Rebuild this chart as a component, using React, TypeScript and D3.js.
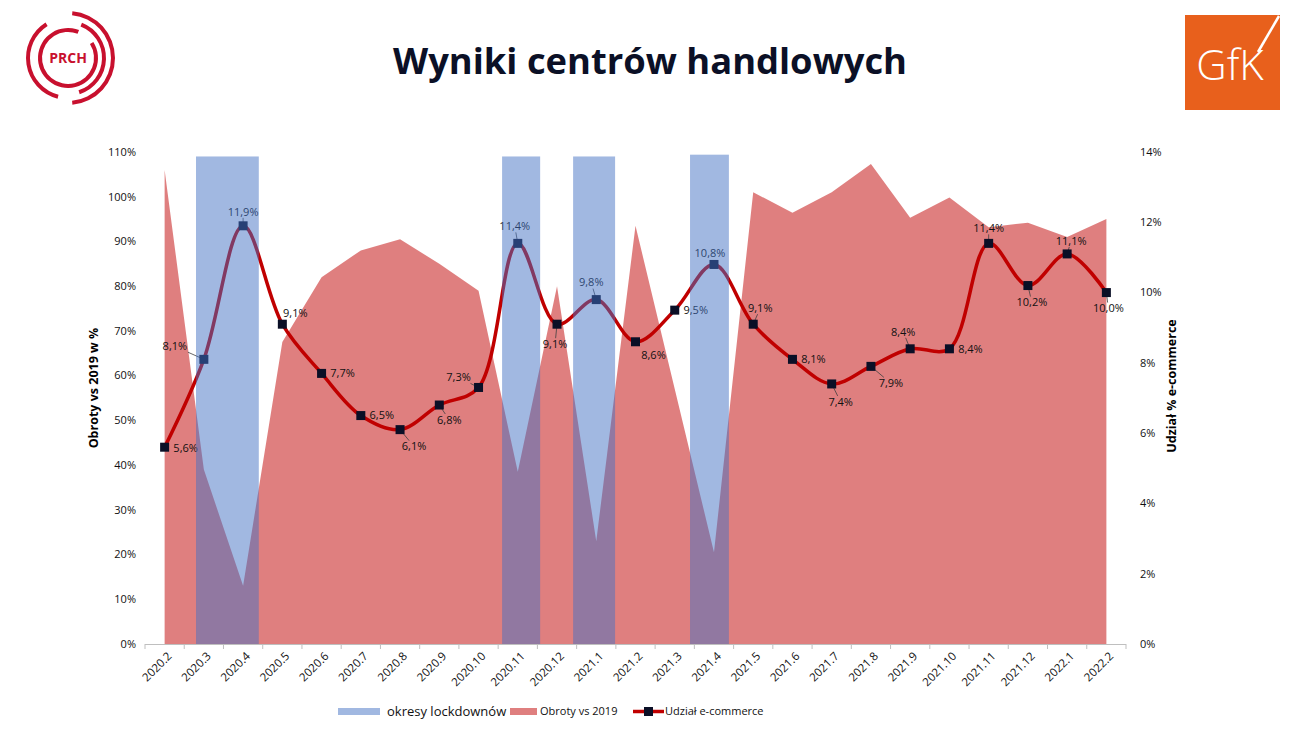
import * as d3 from 'd3'

const categories = [
  '2020.2', '2020.3', '2020.4', '2020.5', '2020.6', '2020.7', '2020.8', '2020.9', '2020.10',
  '2020.11', '2020.12', '2021.1', '2021.2', '2021.3', '2021.4', '2021.5', '2021.6', '2021.7',
  '2021.8', '2021.9', '2021.10', '2021.11', '2021.12', '2022.1', '2022.2',
]

// Obroty vs 2019 (%)
const turnover = [
  106, 39, 13, 67.5, 82, 88, 90.5, 85, 79, 38.5, 80, 23, 93.5, 57, 20.5, 101, 96.4, 101, 107.3, 95.3, 99.8,
  93.2, 94.2, 91, 95,
]

// Udział e-commerce (%)
const ecommerce = [
  5.6, 8.1, 11.9, 9.1, 7.7, 6.5, 6.1, 6.8, 7.3, 11.4, 9.1, 9.8, 8.6, 9.5, 10.8, 9.1, 8.1, 7.4, 7.9, 8.4, 8.4,
  11.4, 10.2, 11.1, 10.0,
]

// okresy lockdownów: start / end in month units along the category axis
const lockdownStart = [1.3, 9.1, 10.91, 13.89]
const lockdownEnd = [2.9, 10.07, 11.98, 14.88]
const lockdownTop = [109, 109, 109, 109.4]

const leftTicks = [0, 10, 20, 30, 40, 50, 60, 70, 80, 90, 100, 110]
const rightTicks = [0, 2, 4, 6, 8, 10, 12, 14]

// label placement per point: [dx, dy, leader]
const labelPlacement: [number, number, boolean][] = [
  [21, 1, false], [-29, -13, true], [0, -14, true], [13, -11, false], [21, 0, false], [21, 0, false],
  [14, 17, true], [10, 15, true], [-20, -10, true], [-3, -17, true], [-2, 20, true], [-5, -17, true],
  [18, 13, false], [21, 0, false], [-4, -11, false], [7, -16, true], [21, 0, false], [9, 18, true],
  [20, 17, true], [-7, -17, true], [21, 0, false], [0, -15, true], [4, 17, true], [4, -13, true],
  [2, 16, true],
]

const font = '"Open Sans", "Noto Sans", sans-serif'
const plot = { x0: 145, x1: 1126, y0: 152, y1: 644 }
const ink = '#111'

function fmt(v: number) {
  return `${v.toFixed(1).replace('.', ',')}%`
}

export default function App() {
  const x = d3.scaleBand<string>().domain(categories).range([plot.x0, plot.x1]).padding(0)
  const xPos = d3.scaleLinear().domain([0, categories.length]).range([plot.x0, plot.x1])
  const cx = (c: string) => (x(c) ?? 0) + x.bandwidth() / 2
  const yLeft = d3.scaleLinear().domain([0, 110]).range([plot.y1, plot.y0])
  const yRight = d3.scaleLinear().domain([0, 14]).range([plot.y1, plot.y0])

  const area = d3
    .area<number>()
    .x((_, i) => cx(categories[i]))
    .y0(plot.y1)
    .y1((d) => yLeft(d))

  const line = d3
    .line<number>()
    .x((_, i) => cx(categories[i]))
    .y((d) => yRight(d))
    .curve(d3.curveCatmullRom.alpha(0.5))

  const ringArc = d3.arc<{ r: number; a0: number; a1: number }>()
    .innerRadius((d) => d.r - 2)
    .outerRadius((d) => d.r + 2)
    .startAngle((d) => d.a0)
    .endAngle((d) => d.a1)

  const rings = [
    { r: 45, a0: 0.03 * Math.PI, a1: 0.97 * Math.PI },
    { r: 40, a0: 1.08 * Math.PI, a1: 1.82 * Math.PI },
    { r: 36, a0: 0.12 * Math.PI, a1: 0.9 * Math.PI },
    { r: 28, a0: 0.32 * Math.PI, a1: 2.12 * Math.PI },
  ]

  return (
    <svg width={1300} height={730} style={{ position: 'absolute', left: 0, top: 0, background: '#fff' }} fontFamily={font}>
      {/* logos */}
      <g transform="translate(68,58)">
        {rings.map((d, i) => (
          <path key={i} d={ringArc(d) ?? ''} fill="#c8102e" />
        ))}
        <text x={0} y={5} textAnchor="middle" fontSize={14} fontWeight={700} fill="#c8102e">PRCH</text>
      </g>
      <g>
        <rect x={1185} y={15} width={95} height={95} fill="#e8601c" />
        <text x={1230} y={80} textAnchor="middle" fontSize={42} fontWeight={300} fill="#fff" fontFamily='"Open Sans", sans-serif'>GfK</text>
        <line x1={1258} y1={52} x2={1279} y2={16} stroke="#fff" strokeWidth={2.5} />
      </g>

      <text x={650} y={74} textAnchor="middle" fontSize={36} fontWeight={700} fill="#0b1026" textLength={514} lengthAdjust="spacingAndGlyphs">
        Wyniki centrów handlowych
      </text>

      {/* area */}
      <path d={area(turnover) ?? ''} fill="#c00000" fillOpacity={0.5} />

      {/* x axis */}
      <line x1={plot.x0} x2={plot.x1} y1={plot.y1 + 0.5} y2={plot.y1 + 0.5} stroke="#bfbfbf" />
      {d3.range(categories.length + 1).map((i) => (
        <line key={i} x1={xPos(i)} x2={xPos(i)} y1={plot.y1} y2={plot.y1 + 5} stroke="#bfbfbf" />
      ))}
      {categories.map((c) => (
        <text key={c} transform={`translate(${cx(c) + 5},${plot.y1 + 10}) rotate(-45)`} textAnchor="end" dy="0.35em" fontSize={11.5} fill={ink}>
          {c}
        </text>
      ))}

      {/* left axis */}
      {leftTicks.map((t) => (
        <text key={t} x={136} y={yLeft(t)} dy="0.35em" textAnchor="end" fontSize={11} fill={ink}>
          {t}%
        </text>
      ))}
      <text transform={`translate(98,388) rotate(-90)`} textAnchor="middle" fontSize={12.5} fontWeight={700} fill="#000">
        Obroty vs 2019 w %
      </text>

      {/* right axis */}
      {rightTicks.map((t) => (
        <text key={t} x={1140} y={yRight(t)} dy="0.35em" textAnchor="start" fontSize={11} fill={ink}>
          {t}%
        </text>
      ))}
      <text transform={`translate(1176,386) rotate(-90)`} textAnchor="middle" fontSize={12.5} fontWeight={700} fill="#000">
        Udział % e-commerce
      </text>

      {/* e-commerce line */}
      <path d={line(ecommerce) ?? ''} fill="none" stroke="#c00000" strokeWidth={3.5} />
      {ecommerce.map((v, i) => {
        const px = cx(categories[i])
        const py = yRight(v)
        const [dx, dy, leader] = labelPlacement[i]
        const lx = px + dx
        const ly = py + dy
        let leaderLine = null
        if (leader) {
          const hw = 13
          const hh = 6
          const vx = px - lx
          const vy = py - ly
          const s = Math.min(hw / Math.max(Math.abs(vx), 0.01), hh / Math.max(Math.abs(vy), 0.01), 1)
          const ex = lx + vx * s
          const ey = ly + vy * s
          leaderLine = <line x1={ex} y1={ey} x2={px} y2={py} stroke="#404040" strokeWidth={0.8} />
        }
        return (
          <g key={i}>
            {leaderLine}
            <rect x={px - 4.5} y={py - 4.5} width={9} height={9} fill="#0a0f26" />
            <text x={lx} y={ly} dy="0.35em" textAnchor="middle" fontSize={11} fill={ink}>
              {fmt(v)}
            </text>
          </g>
        )
      })}

      {/* lockdown bars */}
      {lockdownStart.map((s, i) => (
        <rect
          key={i}
          x={xPos(s)}
          y={yLeft(lockdownTop[i])}
          width={xPos(lockdownEnd[i]) - xPos(s)}
          height={plot.y1 - yLeft(lockdownTop[i])}
          fill="#4472c4"
          fillOpacity={0.5}
        />
      ))}

      {/* legend */}
      <g>
        <rect x={338} y={708} width={42} height={7} fill="#4472c4" fillOpacity={0.5} />
        <text x={387} y={711.5} dy="0.35em" fontSize={13} fill={ink}>okresy lockdownów</text>
        <rect x={510} y={708} width={27} height={7} fill="#c00000" fillOpacity={0.5} />
        <text x={540} y={711.5} dy="0.35em" fontSize={11} fill={ink}>Obroty vs 2019</text>
        <line x1={633} x2={664} y1={711.5} y2={711.5} stroke="#c00000" strokeWidth={3.5} />
        <rect x={644} y={707} width={9} height={9} fill="#0a0f26" />
        <text x={665} y={711.5} dy="0.35em" fontSize={11} fill={ink}>Udział e-commerce</text>
      </g>
    </svg>
  )
}
